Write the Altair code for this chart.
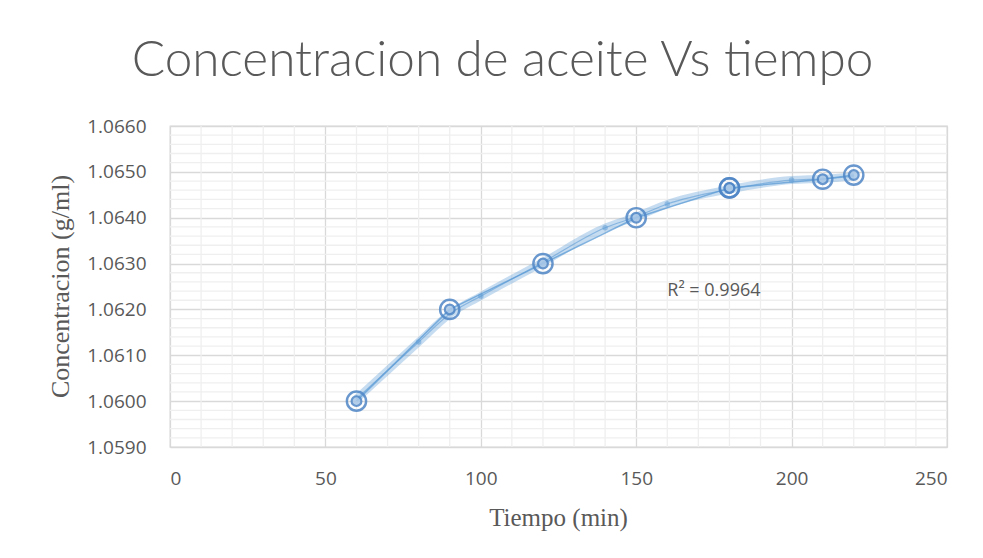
import altair as alt
import pandas as pd

# Measured data (tiempo in min, concentracion in g/ml)
tiempo = [60, 90, 120, 150, 180, 180, 210, 220]
conc = [1.0600, 1.0620, 1.0630, 1.0640, 1.06465, 1.06465, 1.06484, 1.06493]

# Smoothed curve points (trend band with small dots)
trend_x = [60, 80, 90, 100, 120, 140, 150, 160, 180, 200, 210, 220]
trend_y = [1.06005, 1.06129, 1.06190, 1.06229, 1.06303, 1.06378, 1.06402, 1.06430, 1.06462, 1.06482, 1.06485, 1.06490]
dot_x = [80, 100, 140, 160, 200]
dot_y = [1.06129, 1.06229, 1.06378, 1.06430, 1.06482]

x_major = [0, 50, 100, 150, 200, 250]
y_major = [1.0590, 1.0600, 1.0610, 1.0620, 1.0630, 1.0640, 1.0650, 1.0660]
x_minor = [v for v in range(10, 250, 10) if v % 50 != 0]
y_minor = [round(1.0590 + i * 0.0002, 4) for i in range(1, 35) if i % 5 != 0]

r2_label = "R² = 0.9964"
r2_x = [175]
r2_y = [1.06241]

df = pd.DataFrame({"t": tiempo, "c": conc})
trend = pd.DataFrame({"t": trend_x, "c": trend_y})
dots = pd.DataFrame({"t": dot_x, "c": dot_y})
xm = pd.DataFrame({"v": x_minor})
ym = pd.DataFrame({"v": y_minor})
r2 = pd.DataFrame({"t": r2_x, "c": r2_y, "lab": [r2_label]})

xs = alt.Scale(domain=[0, 250], nice=False, zero=False)
ys = alt.Scale(domain=[1.0590, 1.0660], nice=False, zero=False)

X = alt.X("t:Q", scale=xs, axis=alt.Axis(
    values=x_major, grid=True, gridColor="#D9D9D9", gridWidth=1.3,
    domain=False, ticks=False, labelPadding=22, labelFontSize=19,
    labelFont="Open Sans", labelColor="#595959",
    title="Tiempo (min)", titleFont="Liberation Serif", titleFontSize=25,
    titleFontWeight="normal", titleColor="#595959",
    titleX=388, titleY=70, titleBaseline="middle", titleAlign="center"))
Y = alt.Y("c:Q", scale=ys, axis=alt.Axis(
    values=y_major, format=".4f", grid=True, gridColor="#D9D9D9", gridWidth=1.3,
    domain=False, ticks=False, labelPadding=24, labelFontSize=19,
    labelFont="Open Sans", labelColor="#595959",
    title="Concentracion (g/ml)", titleFont="Liberation Serif", titleFontSize=26,
    titleFontWeight="normal", titleColor="#595959", titleAngle=-90,
    titleX=-110, titleY=160, titleBaseline="middle", titleAlign="center"))

minor_x = alt.Chart(xm).mark_rule(color="#EFEFEF", strokeWidth=1.3).encode(
    x=alt.X("v:Q", scale=xs))
minor_y = alt.Chart(ym).mark_rule(color="#EFEFEF", strokeWidth=1.3).encode(
    y=alt.Y("v:Q", scale=ys))

band = alt.Chart(trend).mark_line(color="#5B9BD5", strokeWidth=8, opacity=0.35,
                                  interpolate="monotone").encode(x=X, y=Y, order="t:Q")
trend_line = alt.Chart(trend).mark_line(color="#5B9BD5", strokeWidth=1.2, opacity=0.6,
                                        interpolate="monotone").encode(x=X, y=Y, order="t:Q")
data_line = alt.Chart(df).mark_line(color="#5B9BD5", strokeWidth=1.5, opacity=0.75).encode(
    x=X, y=Y, order="t:Q")
small_dots = alt.Chart(dots).mark_circle(color="#5B9BD5", size=30, opacity=0.5).encode(x=X, y=Y)
outer = alt.Chart(df).mark_point(shape="circle", size=370, filled=False, color="#4F86C6",
                                 strokeWidth=2.4, opacity=0.85).encode(x=X, y=Y)
inner = alt.Chart(df).mark_point(shape="circle", size=95, filled=True, fill="#A9C8E8",
                                 stroke="#4F86C6", strokeWidth=2.2, opacity=0.85).encode(x=X, y=Y)
r2_text = alt.Chart(r2).mark_text(font="Open Sans", fontSize=18, color="#595959").encode(
    x=X, y=Y, text="lab:N")

chart = alt.layer(minor_x, minor_y, band, trend_line, data_line, small_dots, outer, inner, r2_text).properties(
    width=777, height=321,
    autosize=alt.AutoSizeParams(type="none"),
    padding={"left": 170, "top": 126, "right": 36, "bottom": 111},
    background="white",
    title=alt.TitleParams("Concentracion de aceite Vs tiempo", font="Lato", fontSize=49.5,
                          fontWeight=300, color="#595959", anchor="middle", dx=-56, offset=31),
).configure_view(stroke="#D9D9D9", strokeWidth=1.3)

chart.save("out.html", embed_options={"renderer": "svg", "actions": False})
